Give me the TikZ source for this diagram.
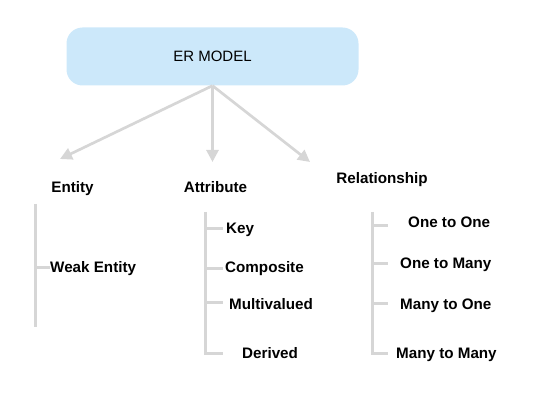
\documentclass[tikz,border=0pt]{standalone}
\usepackage{fontspec}
\setmainfont{Liberation Sans}
\usetikzlibrary{arrows.meta}
\definecolor{boxblue}{RGB}{204,232,250}
\definecolor{linegray}{RGB}{214,214,214}
\begin{document}
\begin{tikzpicture}[x=1pt,y=-1pt,
  rootbox/.style={fill=boxblue, draw=none, rounded corners=16pt, minimum width=292pt, minimum height=58pt, inner sep=0pt, font=\fontsize{15}{18}\selectfont},
  lbl/.style={font=\bfseries\fontsize{15.2}{18}\selectfont, inner sep=0pt, text height=11pt, text depth=0pt},
  arr/.style={draw=linegray, line width=2.7pt, -{Triangle[length=12pt,width=12pt]}},
  branch/.style={draw=linegray, line width=3pt}]
\useasboundingbox (0,0) rectangle (536,409);
\node[rootbox] (er) at (212.5,56.5) {ER MODEL};
% level-one labels
\node[lbl] (entity) at (72.5,187) {Entity};
\node[lbl] (attribute) at (215.5,187) {Attribute};
\node[lbl] (relationship) at (382,178) {Relationship};
% arrow tips
\coordinate (tipE) at (60,159);
\coordinate (tipA) at (212.5,162);
\coordinate (tipR) at (310,162);
\draw[arr] (er.south) -- (tipE);
\draw[arr] (er.south) -- (tipA);
\draw[arr] (er.south) -- (tipR);
% Entity branch
\coordinate (eTop) at (35,204);
\coordinate (eBot) at (35,327);
\coordinate (eT1) at (35,267);
\draw[branch] (eTop) -- (eBot);
\node[lbl, anchor=west] (weak) at (50,267) {Weak Entity};
\draw[branch] (eT1) -- (weak.west);
% Attribute branch
\coordinate (aTop) at (205.5,212);
\coordinate (aBot) at (205.5,354.5);
\draw[branch] (aTop) -- (aBot);
\foreach \n/\y in {1/229,2/268,3/302,4/353}{
  \coordinate (aS\n) at (205.5,\y);
  \coordinate (aE\n) at (223,\y);
  \draw[branch] (aS\n) -- (aE\n);
}
\node[lbl, anchor=west] (key) at (226,228) {Key};
\node[lbl, anchor=west] (composite) at (225,267) {Composite};
\node[lbl, anchor=west] (multi) at (229,304) {Multivalued};
\node[lbl, anchor=west] (derived) at (242,353) {Derived};
% Relationship branch
\coordinate (rTop) at (372,212);
\coordinate (rBot) at (372,354.5);
\draw[branch] (rTop) -- (rBot);
\foreach \n/\y in {1/226,2/263,3/303,4/353}{
  \coordinate (rS\n) at (372,\y);
  \coordinate (rE\n) at (388,\y);
  \draw[branch] (rS\n) -- (rE\n);
}
\node[lbl, anchor=west] (oo) at (408,222) {One to One};
\node[lbl, anchor=west] (om) at (400,263) {One to Many};
\node[lbl, anchor=west] (mo) at (400,304) {Many to One};
\node[lbl, anchor=west] (mm) at (396,353) {Many to Many};
\end{tikzpicture}
\end{document}
